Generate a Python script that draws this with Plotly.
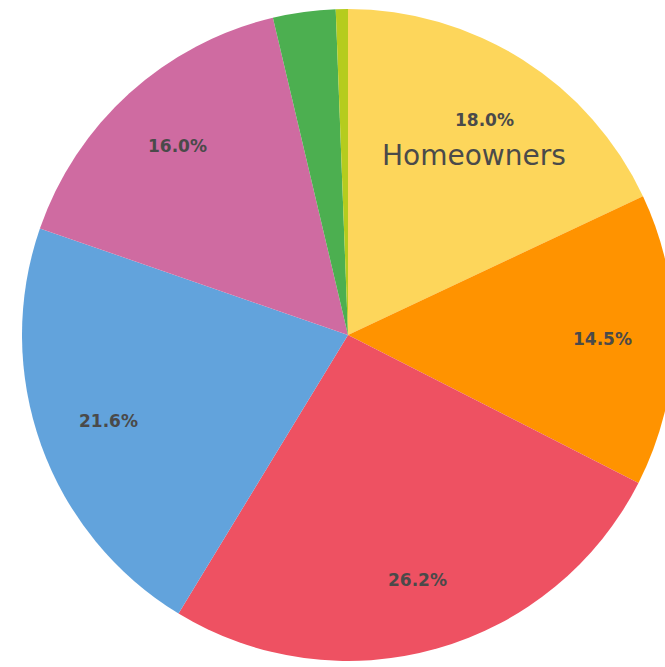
import math
import plotly.graph_objects as go

# ---- data ----
values = [18.0, 14.5, 26.2, 21.6, 16.0, 3.1, 0.6]
percent_labels = ["18.0%", "14.5%", "26.2%", "21.6%", "16.0%", "", ""]
name_labels = ["Homeowners", "", "", "", "", "", ""]
colors = ["#FDD65B", "#FF9300", "#EE5162", "#62A3DC", "#CF6BA1", "#4CAF50", "#B5CC1E"]

# ---- layout geometry (figure is larger than the window; the window clips it) ----
W, H = 690, 690
cx_px, cy_px_top, R_px = 348, 335, 326
dom_x = [(cx_px - R_px) / W, (cx_px + R_px) / W]
dom_y = [(H - (cy_px_top + R_px)) / H, (H - (cy_px_top - R_px)) / H]
label_frac = 0.78
text_color = "#4a4a4a"

fig = go.Figure(go.Pie(
    values=values,
    marker=dict(colors=colors, line=dict(width=0)),
    sort=False,
    direction="clockwise",
    rotation=0,
    textinfo="none",
    hoverinfo="value+percent",
    domain=dict(x=dom_x, y=dom_y),
))

# label positions derived from the slice values (mid-angle of each slice)
cx = (dom_x[0] + dom_x[1]) / 2 * W
cy = (dom_y[0] + dom_y[1]) / 2 * H
R = min((dom_x[1] - dom_x[0]) * W, (dom_y[1] - dom_y[0]) * H) / 2
total = sum(values)
cum = 0.0
annotations = []
for v, pl, nl in zip(values, percent_labels, name_labels):
    mid = (cum + v / 2) / total * 2 * math.pi
    cum += v
    px = cx + label_frac * R * math.sin(mid)
    py = cy + label_frac * R * math.cos(mid)
    if pl:
        annotations.append(dict(
            x=px / W, y=py / H, xref="paper", yref="paper",
            text=pl, showarrow=False, xanchor="center", yanchor="middle",
            font=dict(family="DejaVu Sans", size=17, color=text_color, weight="bold"),
        ))
    if nl:
        annotations.append(dict(
            x=px / W, y=py / H, xref="paper", yref="paper", yshift=-35, xshift=-10,
            text=nl, showarrow=False, xanchor="center", yanchor="middle",
            font=dict(family="DejaVu Sans", size=28, color=text_color),
        ))

fig.update_layout(
    width=W, height=H,
    margin=dict(l=0, r=0, t=0, b=0),
    paper_bgcolor="white",
    plot_bgcolor="white",
    showlegend=False,
    annotations=annotations,
)

fig.write_html(
    "out.html",
    config={"displayModeBar": False},
    post_script="document.body.style.margin='0';document.body.style.overflow='hidden';",
)
